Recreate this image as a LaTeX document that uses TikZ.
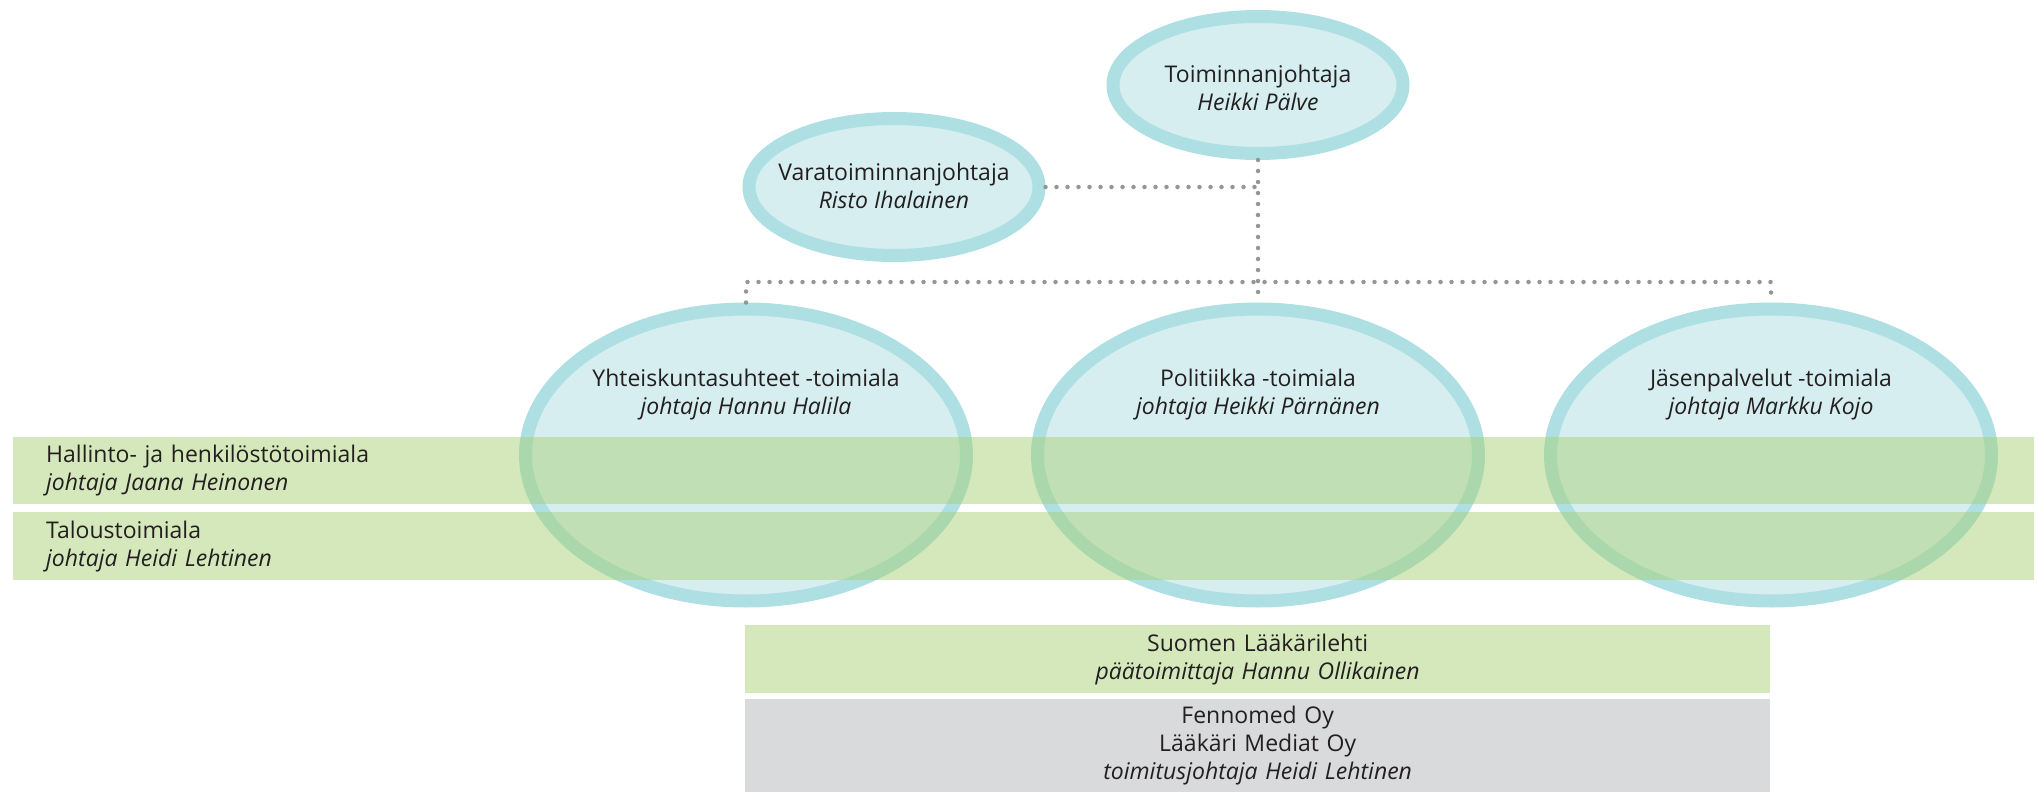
\documentclass[tikz,border=0pt]{standalone}
\usepackage{fontspec}
\setmainfont{Open Sans}
\usepackage{tikz}
\usetikzlibrary{shapes.geometric}

\definecolor{ringteal}{RGB}{173,223,227}
\definecolor{fillteal}{RGB}{214,238,240}
\definecolor{bandgreen}{RGB}{171,209,121}
\definecolor{boxgreen}{RGB}{213,232,188}
\definecolor{boxgray}{RGB}{217,218,219}
\definecolor{dotgray}{RGB}{147,149,152}
\definecolor{inkdark}{RGB}{35,31,32}

\tikzset{
  unit/.style={ellipse, draw=ringteal, fill=fillteal, line width=13pt, inner sep=0pt, align=center},
  unittext/.style={align=center, inner sep=0pt},
  band/.style={rectangle, fill=bandgreen, fill opacity=0.5, text opacity=1, anchor=north west,
    inner sep=0pt, inner xsep=33pt, text width=1955pt, align=left},
  infobox/.style={rectangle, anchor=north west, inner sep=0pt, text width=1025pt, align=center},
  dotline/.style={dotgray, line width=4.5pt, line cap=round, dash pattern=on 0pt off 11pt}
}

\begin{document}
\begin{tikzpicture}[x=1pt, y=-1pt, font=\fontsize{23}{28}\selectfont, text=inkdark]
  \useasboundingbox (0,0) rectangle (2038,792);

  % Johto
  \node[unit, minimum width=290pt, minimum height=137pt] (toimjoht) at (1258,85) {};
  \node[unit, minimum width=290pt, minimum height=137pt] (varatoim) at (894,187) {};
  \node[unittext] at (1258,88) {Toiminnanjohtaja\\\textit{Heikki Pälve}};
  \node[unittext] at (894,186) {Varatoiminnanjohtaja\\\textit{Risto Ihalainen}};

  % Toimialat
  \node[unit, minimum width=441pt, minimum height=292pt] (yhteis) at (746,455) {};
  \node[unit, minimum width=441pt, minimum height=292pt] (politiikka) at (1258,455) {};
  \node[unit, minimum width=441pt, minimum height=292pt] (jasen) at (1771,455) {};
  \node[unittext] at (746,395) {Yhteiskuntasuhteet -toimiala\\\textit{johtaja Hannu Halila}};
  \node[unittext] at (1258,395) {Politiikka -toimiala\\\textit{johtaja Heikki Pärnänen}};
  \node[unittext] at (1771,395) {Jäsenpalvelut -toimiala\\\textit{johtaja Markku Kojo}};

  % Yhteydet
  \coordinate (bus) at (1258,282);
  \draw[dotline] (toimjoht.south) -- (politiikka.north);
  \draw[dotline] (varatoim.east) -- (varatoim.east -| toimjoht.south);
  \draw[dotline] (yhteis.north) |- (bus) -| (jasen.north);

  % Tukitoimialat
  \node[band, minimum height=67pt] (hallinto) at (13,437)
    {Hallinto- ja henkilöstötoimiala\\\textit{johtaja Jaana Heinonen}};
  \node[band, minimum height=68pt] (talous) at (13,512)
    {Taloustoimiala\\\textit{johtaja Heidi Lehtinen}};

  % Lehti ja yhtiöt
  \node[infobox, fill=boxgreen, minimum height=68pt] (lehti) at (745,625)
    {Suomen Lääkärilehti\\\textit{päätoimittaja Hannu Ollikainen}};
  \node[infobox, fill=boxgray, minimum height=93pt] (fennomed) at (745,699)
    {Fennomed Oy\\Lääkäri Mediat Oy\\\textit{toimitusjohtaja Heidi Lehtinen}};
\end{tikzpicture}
\end{document}
